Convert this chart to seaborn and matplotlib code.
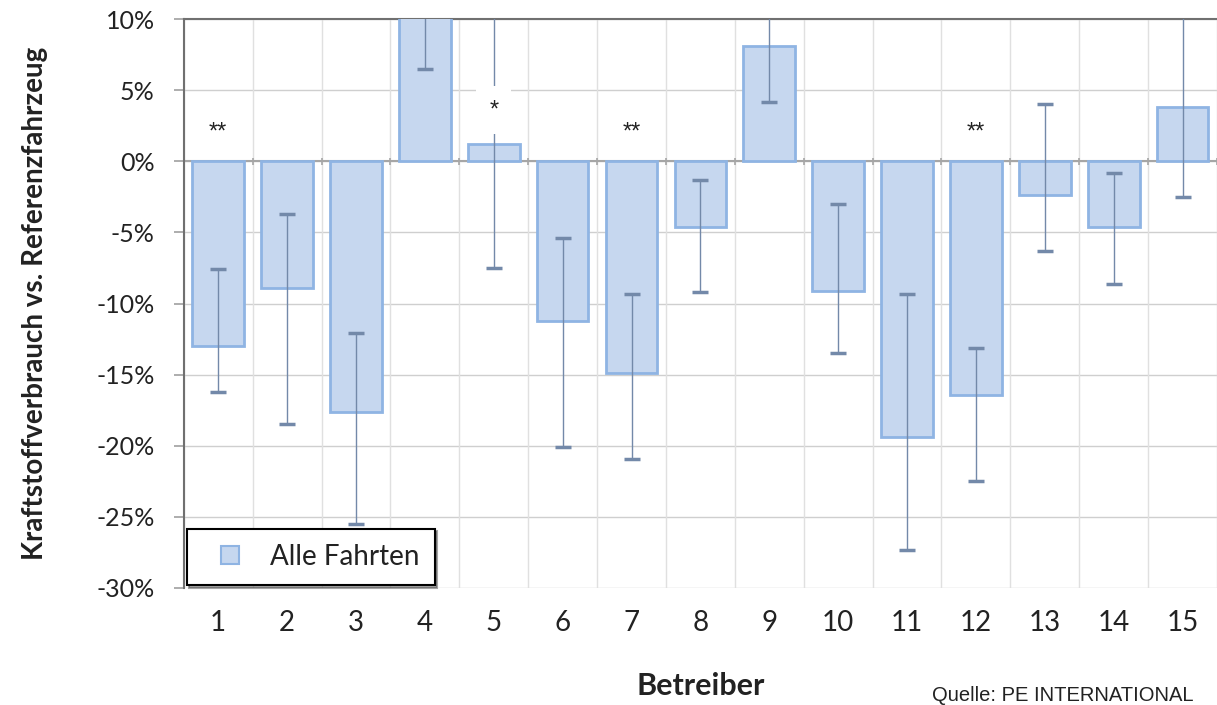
import numpy as np
import pandas as pd
import matplotlib
matplotlib.use("Agg")
import matplotlib.pyplot as plt
from matplotlib.lines import Line2D
import seaborn as sns

# --- data (percent) ---
betreiber = [str(i) for i in range(1, 16)]
werte = [-13.0, -8.9, -17.6, 12.0, 1.2, -11.2, -14.9, -4.6, 8.1, -9.1, -19.4, -16.4, -2.4, -4.6, 3.8]
fehler_oben = [-7.6, -3.7, -12.1, 17.0, 15.0, -5.4, -9.3, -1.3, 15.0, -3.0, -9.3, -13.1, 4.0, -0.8, 15.0]
fehler_unten = [-16.2, -18.5, -25.5, 6.5, -7.5, -20.1, -20.9, -9.2, 4.2, -13.5, -27.3, -22.5, -6.3, -8.6, -2.5]
signifikanz = {"1": ("**", 2.0), "5": ("*", 3.6), "7": ("**", 2.0), "12": ("**", 2.0)}
y_ticks = [10, 5, 0, -5, -10, -15, -20, -25, -30]

df = pd.DataFrame({"Betreiber": betreiber, "Wert": werte})

sns.set_theme(style="white")
plt.rcParams["font.family"] = ["Lato", "DejaVu Sans"]

fig = plt.figure(figsize=(12.17, 7.05), dpi=100)
ax = fig.add_axes([0.151, 0.166, 0.849, 0.807])

bar_face = "#c6d7ef"
bar_edge = "#8fb4e3"
err_col = "#7389a9"
text_col = "#222222"

sns.barplot(data=df, x="Betreiber", y="Wert", color=bar_face, edgecolor=bar_edge,
            linewidth=2, width=0.75, saturation=1, ax=ax, zorder=3)

x = np.arange(len(betreiber))
w = np.array(werte)
lo = w - np.array(fehler_unten)
hi = np.array(fehler_oben) - w
ax.errorbar(x, w, yerr=[lo, hi], fmt="none", ecolor=err_col, elinewidth=1.0,
            capsize=6, capthick=2.5, zorder=4)

ax.set_xlim(-0.5, 14.5)
ax.set_ylim(-30, 10)

# grid: horizontal at each 5 %, vertical between categories
for yv in y_ticks:
    ax.axhline(yv, color="#cfcfcf", lw=1.0, zorder=0)
for xb in np.arange(-0.5, 15, 1.0):
    ax.axvline(xb, color="#e0e0e0", lw=1.0, zorder=0)
ax.axhline(0, color="#a6a6a6", lw=1.5, zorder=2)
ax.vlines(np.arange(0.5, 15, 1.0), -0.25, 0.25, color="#a6a6a6", lw=1.2, zorder=2)

for kat, (txt, yv) in signifikanz.items():
    ax.text(betreiber.index(kat), yv, txt, ha="center", va="center", fontsize=17,
            color=text_col, zorder=6, family=["Liberation Sans", "DejaVu Sans"],
            bbox=dict(boxstyle="square,pad=0.55", facecolor="white", edgecolor="none"))

ax.set_yticks(y_ticks)
ax.set_yticklabels([f"{v}%" for v in y_ticks], fontsize=18, color=text_col)
ax.tick_params(axis="x", labelsize=20, colors=text_col, length=0, pad=16)
ax.tick_params(axis="y", direction="out", length=7, width=1.2, color="#a0a0a0", pad=14, left=True)

ax.set_xlabel("Betreiber", fontsize=22, fontweight="bold", color=text_col, va="top")
ax.xaxis.set_label_coords(0.5, -0.148)
ax.set_ylabel("Kraftstoffverbrauch vs. Referenzfahrzeug", fontsize=20,
              fontweight="bold", color=text_col)
ax.yaxis.set_label_coords(-0.131, 0.5)

for side in ["right", "bottom"]:
    ax.spines[side].set_visible(False)
ax.spines["left"].set_color("#707070")
ax.spines["left"].set_linewidth(1.5)
ax.spines["top"].set_color("#707070")
ax.spines["top"].set_linewidth(1.5)

handle = Line2D([], [], marker="s", markersize=13, linestyle="none",
                markerfacecolor=bar_face, markeredgecolor=bar_edge, markeredgewidth=1.5)
leg = ax.legend([handle], ["Alle Fahrten"], loc="lower left", bbox_to_anchor=(0.0, 0.0),
                fontsize=20, frameon=True, fancybox=False, shadow=True,
                handlelength=2.0, borderpad=0.55, handletextpad=0.45, borderaxespad=0.1)
leg.get_frame().set_edgecolor("black")
leg.get_frame().set_linewidth(1.5)
leg.set_zorder(7)
for t in leg.get_texts():
    t.set_color(text_col)

fig.text(0.766, 0.006, "Quelle: PE INTERNATIONAL", fontsize=14.5, color=text_col,
         family=["Liberation Sans", "DejaVu Sans"], va="baseline")

fig.savefig("out.png", dpi=100)
